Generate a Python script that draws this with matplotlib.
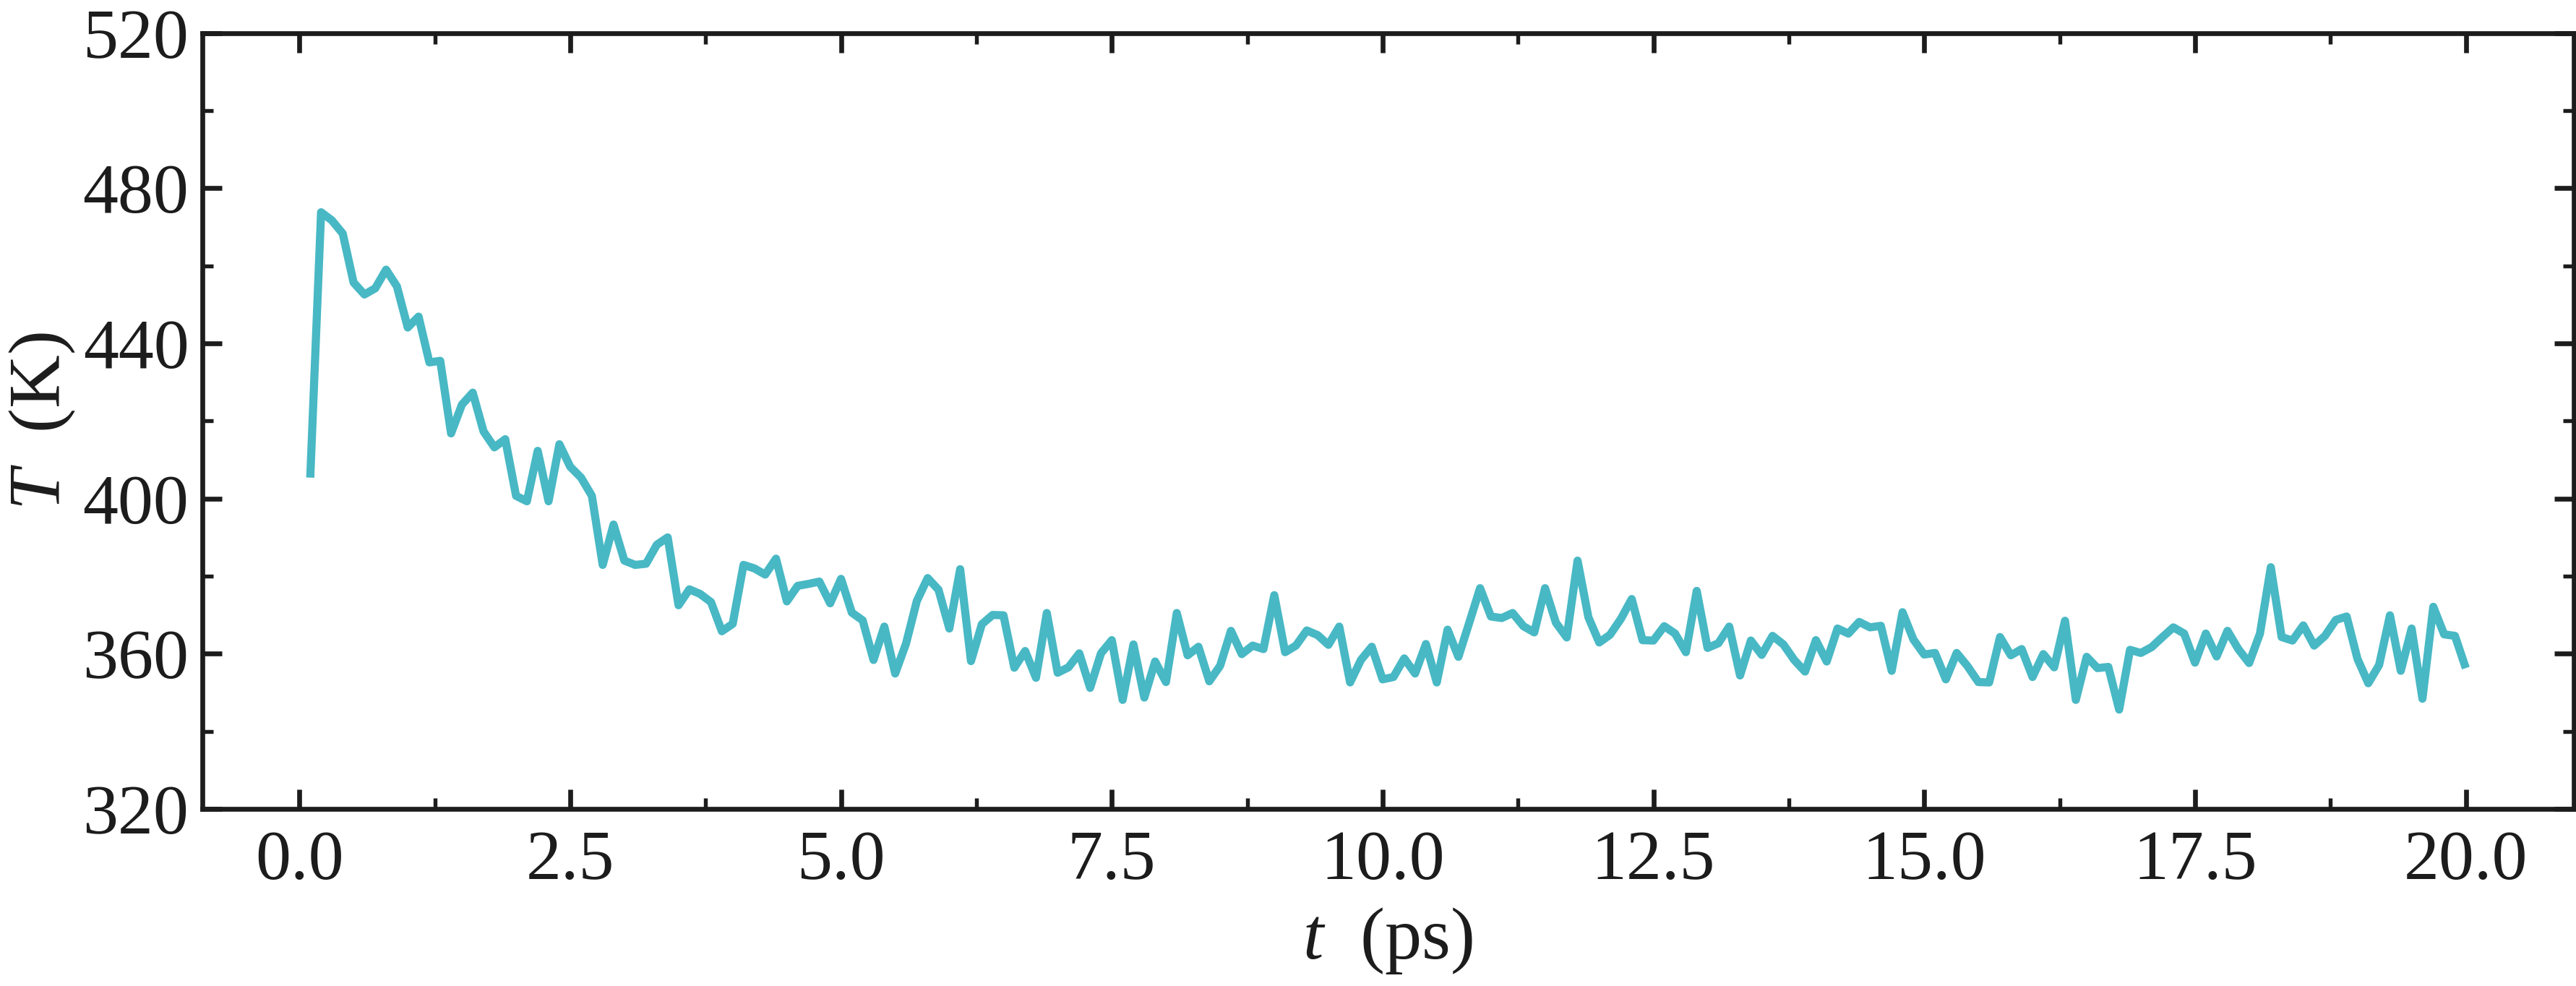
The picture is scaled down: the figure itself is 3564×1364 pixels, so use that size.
import numpy as np
import matplotlib
matplotlib.use("Agg")
import matplotlib.pyplot as plt
from matplotlib.ticker import MultipleLocator, FormatStrFormatter

# time axis (ps): samples every 0.1 ps from 0.1 to 20.0
t_ps = np.arange(1, 201) / 10.0

# temperature (K)
T_K = [
    405.4, 473.8, 471.7, 468.3, 455.7, 452.6, 454.2, 459.0, 454.7, 444.1,
    446.9, 435.1, 435.5, 416.8, 424.2, 427.3, 417.3, 413.2, 415.3, 400.7,
    399.3, 412.3, 399.3, 414.0, 408.2, 405.4, 400.7, 382.9, 393.3, 384.0,
    382.9, 383.2, 388.1, 390.0, 372.5, 376.6, 375.4, 373.3, 365.8, 367.7,
    382.9, 382.0, 380.4, 384.5, 373.5, 377.5, 378.0, 378.6, 373.0, 379.3,
    370.6, 368.6, 358.4, 367.0, 354.9, 362.6, 373.6, 379.5, 376.5, 366.5,
    381.8, 358.1, 367.6, 370.0, 369.9, 356.4, 360.7, 353.8, 370.5, 355.1,
    356.5, 360.1, 351.2, 360.1, 363.5, 348.1, 362.4, 348.7, 358.0, 352.7,
    370.5, 359.6, 361.8, 352.9, 356.9, 365.9, 359.9, 362.1, 361.2, 375.1,
    360.4, 362.1, 366.0, 364.8, 362.3, 367.0, 352.6, 358.4, 361.8, 353.4,
    354.0, 358.8, 354.9, 362.5, 352.6, 366.2, 359.2, 368.0, 376.9, 369.6,
    369.2, 370.5, 367.1, 365.5, 376.9, 368.0, 364.2, 384.0, 369.4, 362.9,
    364.9, 369.0, 374.1, 363.5, 363.4, 367.1, 365.2, 360.4, 376.2, 361.5,
    362.7, 367.0, 354.4, 363.4, 359.7, 364.6, 362.4, 358.4, 355.4, 363.5,
    358.0, 366.5, 365.2, 368.2, 366.8, 367.2, 355.6, 370.7, 363.7, 359.8,
    360.2, 353.4, 360.2, 356.8, 352.7, 352.6, 364.3, 359.6, 361.2, 354.0,
    359.9, 356.5, 368.5, 348.1, 359.2, 356.3, 356.6, 345.6, 361.0, 360.2,
    361.7, 364.3, 366.8, 365.2, 357.7, 365.2, 359.3, 365.9, 361.2, 357.6,
    365.2, 382.3, 364.3, 363.4, 367.3, 362.1, 364.6, 368.7, 369.6, 358.7,
    352.4, 357.1, 369.9, 355.6, 366.5, 348.4, 372.1, 365.0, 364.6, 356.3,
]

y_ticks = [320, 360, 400, 440, 480, 520]
x_label = "$t$  (ps)"
y_label = "$T$  (K)"

INK = "#1c1c1c"
LINE = "#48b8c4"

plt.rcParams["font.family"] = ["Liberation Serif", "DejaVu Serif"]
plt.rcParams["mathtext.fontset"] = "custom"
plt.rcParams["mathtext.rm"] = "Liberation Serif"
plt.rcParams["mathtext.it"] = "Liberation Serif:italic"
plt.rcParams["text.color"] = INK
plt.rcParams["axes.labelcolor"] = INK

fig = plt.figure(figsize=(11.88, 4.5467), dpi=300)
ax = fig.add_axes([0.0786, 0.1796, 0.99905 - 0.0786, 0.9665 - 0.1796])

ax.plot(t_ps, T_K, color=LINE, lw=2.7, solid_capstyle="butt", solid_joinstyle="round")

ax.set_ylim(320, 520)
ax.set_yticks(y_ticks)
ax.yaxis.set_minor_locator(MultipleLocator(20))
ax.xaxis.set_major_locator(MultipleLocator(2.5))
ax.xaxis.set_minor_locator(MultipleLocator(1.25))
ax.xaxis.set_major_formatter(FormatStrFormatter("%.1f"))

for s in ax.spines.values():
    s.set_linewidth(1.6)
    s.set_color(INK)

ax.tick_params(which="both", direction="in", top=True, right=True, colors=INK, labelsize=23.5)
ax.tick_params(which="major", length=6.4, width=1.6)
ax.tick_params(which="minor", length=3.6, width=1.3)
ax.tick_params(axis="x", pad=7)
ax.tick_params(axis="y", pad=4.5)

ax.set_xlabel(x_label, fontsize=24.5)
ax.set_ylabel(y_label, fontsize=24.5)
ax.xaxis.set_label_coords(0.5, -0.1248)
ax.yaxis.set_label_coords(-0.0527, 0.5)

fig.savefig("out.png", dpi=300, facecolor="white")
